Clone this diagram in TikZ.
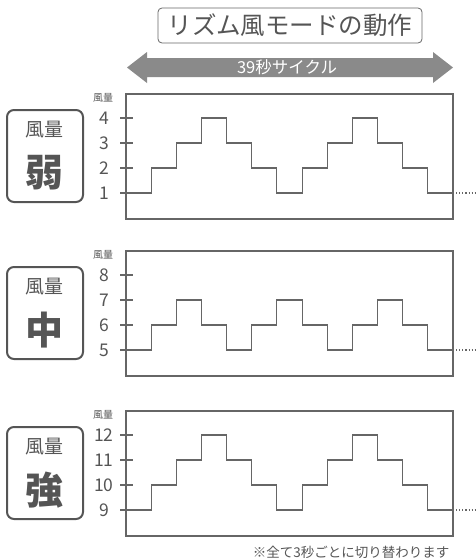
\documentclass[tikz,border=0pt]{standalone}
\usepackage{fontspec}
\setmainfont{Noto Sans CJK JP}
\usepackage{tikz}
\usetikzlibrary{positioning}
\usetikzlibrary{calc}

\definecolor{ink}{HTML}{555555}
\definecolor{rule}{HTML}{666666}
\definecolor{band}{HTML}{8A8A8A}

\tikzset{
  titlebox/.style={draw=rule, line width=0.8pt, rounded corners=4pt, minimum width=264pt, minimum height=35pt, text=ink, font=\fontsize{24.5}{24.5}\selectfont},
  levelbox/.style={draw=ink, line width=2pt, rounded corners=7pt, minimum width=76pt, minimum height=92pt},
  frame/.style={draw=rule, line width=1.6pt},
  tick/.style={draw=rule, line width=1.4pt},
  stair/.style={draw=rule, line width=1.1pt},
  num/.style={text=ink, font=\fontsize{17.5}{17.5}\selectfont},
  axisname/.style={text=ink, font=\fontsize{10}{10}\selectfont},
}

\begin{document}
\begin{tikzpicture}[x=1pt, y=-1pt]
\useasboundingbox (0,0) rectangle (476,558);

% title and cycle arrow
\node[titlebox] (title) at (290,25.5) {リズム風モードの動作};
\fill[band] (127,67.5) -- (147,52) -- (147,58) -- (433,58) -- (433,52) -- (453,67.5)
  -- (433,83) -- (433,77) -- (147,77) -- (147,83) -- cycle;
\node[text=white, font=\fontsize{16.5}{16.5}\selectfont] (cycle) at (287,67.5) {39秒サイクル};

% three panels
\foreach \ytop/\word/\low/\seq in {94/弱/1/{0,1,2,3,2,1,0,1,2,3,2,1,0},
                                   251/中/5/{0,1,2,1,0,1,2,1,0,1,2,1,0},
                                   411/強/9/{0,1,2,3,2,1,0,1,2,3,2,1,0}}{
  \node[levelbox] (box\ytop) at (45,\ytop+62) {};
  \node[text=ink, font=\fontsize{19}{19}\selectfont] (wind\ytop) at (45,\ytop+36) {風量};
  \node[text=ink, font=\fontsize{38}{38}\selectfont\bfseries] (level\ytop) at (45,\ytop+79) {\word};
  \node[axisname] (axis\ytop) at (103,\ytop+4) {風量};
  \draw[frame] (126,\ytop) rectangle (453,\ytop+125);
  \foreach \i in {0,...,3}{
    \pgfmathtruncatemacro{\val}{\low+\i}
    \draw[tick] (120,\ytop+99-25*\i) -- (133,\ytop+99-25*\i);
    \node[num] (num\ytop-\i) at (104,\ytop+99-25*\i) {\val};
  }
  \draw[stair] (126,\ytop+99) \foreach \v [count=\j] in \seq {
    -- (126+25.154*\j-25.154,\ytop+99-25*\v) -- (126+25.154*\j,\ytop+99-25*\v) };
  \coordinate (end\ytop) at (476,\ytop+99);
  \draw[stair, dotted] (453,\ytop+99) -- (end\ytop);
}

\node[text=ink, anchor=east, font=\fontsize{13.5}{13.5}\selectfont] (note) at (453,552) {※全て3秒ごとに切り替わります};
\end{tikzpicture}
\end{document}
